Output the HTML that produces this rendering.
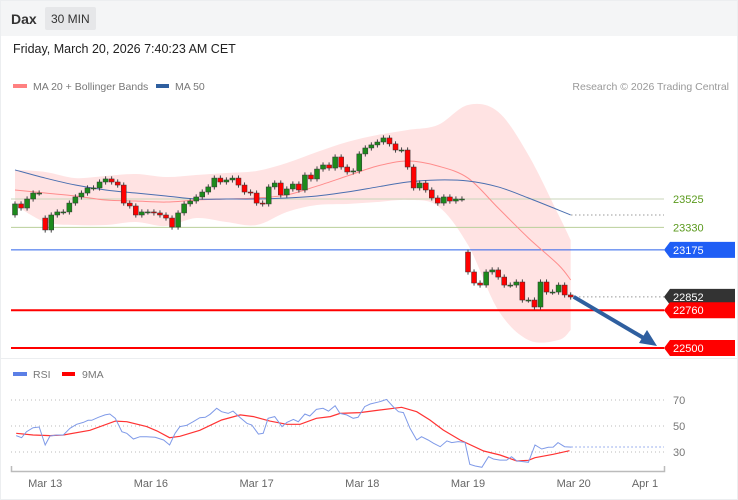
<!DOCTYPE html>
<html><head><meta charset="utf-8"><style>
body{margin:0;background:#fff;font-family:"Liberation Sans",sans-serif;}
#wrap{position:relative;width:738px;height:500px;overflow:hidden;background:#fff;}
svg text{font-family:"Liberation Sans",sans-serif;}
</style></head><body>
<div id="wrap">
<svg id="svg" width="738" height="500" xmlns="http://www.w3.org/2000/svg">
<rect x="0" y="0" width="738" height="36" fill="#f4f5f6"/>
<rect x="0.5" y="0.5" width="737" height="499" fill="none" stroke="#eceef0"/>
<text x="11" y="24" font-size="14" font-weight="bold" fill="#333">Dax</text>
<rect x="45" y="7" width="51" height="23" rx="2" fill="#e6e7e9"/>
<text x="51" y="23" font-size="12" fill="#333">30 MIN</text>
<text x="13" y="53" font-size="12.5" fill="#222">Friday, March 20, 2026 7:40:23 AM CET</text>
<rect x="13" y="84" width="14" height="4" fill="#ff8080"/>
<text x="33" y="90" font-size="10.5" fill="#777">MA 20 + Bollinger Bands</text>
<rect x="156" y="84" width="13" height="4" fill="#2f5f9f"/>
<text x="175" y="90" font-size="10.5" fill="#777">MA 50</text>
<text x="729" y="90" font-size="10.5" fill="#999" text-anchor="end">Research © 2026 Trading Central</text>
<line x1="0" y1="358.5" x2="738" y2="358.5" stroke="#eceef0"/>
<rect x="13" y="372" width="14" height="4" fill="#5b7fe6"/>
<text x="33" y="378" font-size="10.5" fill="#777">RSI</text>
<rect x="62" y="372" width="13" height="4" fill="#f00"/>
<text x="82" y="378" font-size="10.5" fill="#777">9MA</text>
<g id="g"></g>
</svg>
</div>
<script>
const closes=[23491,23463,23525,23566,23566,23312,23415,23436,23436,23497,23539,23566,23601,23601,23642,23663,23642,23621,23497,23477,23415,23436,23436,23429,23415,23394,23332,23429,23491,23511,23539,23573,23608,23669,23642,23656,23669,23621,23573,23566,23497,23491,23608,23635,23553,23594,23628,23587,23690,23663,23731,23759,23738,23814,23745,23711,23718,23835,23876,23897,23917,23945,23904,23862,23862,23745,23601,23635,23587,23532,23497,23539,23511,23525,23525,23023,22947,22933,23023,23037,22988,22933,22933,22954,22830,22830,22782,22954,22885,22885,22933,22865,22851];
const firstOpen=23415;
const gapOpens={5:23394,75:23160};
const indIdx=[0,5,10,15,20,25,30,35,40,45,50,55,60,65,70,75,80,85,90,92];
const ma50=[23725,23669,23621,23587,23566,23546,23525,23525,23525,23532,23546,23573,23608,23642,23656,23649,23608,23532,23449,23415];
const ma20=[23587,23566,23546,23518,23511,23504,23518,23525,23532,23553,23614,23683,23752,23786,23752,23669,23463,23257,23071,22968];
const bbUpper=[23725,23711,23669,23683,23697,23676,23690,23704,23718,23773,23848,23917,23965,24000,24034,24172,24124,23828,23415,23243];
const bbLower=[23484,23367,23346,23346,23367,23339,23394,23367,23346,23436,23484,23491,23504,23518,23477,23209,22761,22555,22555,22624];
const rsiIdx=[0.2,1.1,1.9,3.0,4.0,5.0,5.8,6.9,8.0,9.1,10.2,11.3,12.1,12.7,13.8,14.9,15.7,16.6,17.7,18.5,19.6,20.7,21.8,23.2,24.6,25.6,26.5,27.3,28.4,29.5,30.6,31.5,32.3,33.4,34.2,35.3,36.1,37.3,38.4,39.2,40.3,41.1,41.9,43.0,44.2,45.0,46.1,46.9,48.0,48.8,49.9,51.0,51.9,53.0,53.8,54.9,56.0,56.8,57.9,58.8,60.4,61.5,62.6,63.5,64.3,65.4,66.5,67.3,68.4,69.3,70.4,71.5,72.3,73.4,74.5,75.3,76.2,77.3,78.4,79.2,80.3,81.4,82.2,83.1,84.1,85.0,86.1,87.2,88.3,89.1,89.9,91.0,92.1];
const rsiVal=[42.6,41.0,45.6,48.7,49.2,35.4,42.3,43.1,43.1,48.2,51.3,52.8,54.4,54.4,56.7,58.5,59.2,55.9,45.6,44.4,40.0,41.8,41.8,41.3,39.2,35.4,44.4,49.5,50.5,53.3,56.4,56.7,59.0,63.6,61.0,59.7,61.5,56.4,52.1,50.8,43.8,44.4,55.9,57.2,49.5,52.8,55.1,53.3,59.2,57.7,62.8,63.6,61.5,65.6,59.7,58.5,55.9,56.7,64.9,66.9,68.7,70.5,64.9,61.0,60.3,48.2,39.2,41.8,39.2,36.7,34.1,38.5,37.2,38.0,37.4,20.5,19.2,18.2,26.4,24.6,23.8,23.8,26.4,23.1,22.6,22.1,35.4,32.3,33.6,33.8,37.2,34.1,33.8];
const maIdx=[0.2,3.0,5.8,8.0,12.4,16.6,18.5,21.8,23.5,25.6,27.3,30.6,34.2,37.3,39.5,42.2,45.0,47.2,49.9,52.2,53.8,57.1,60.4,64.0,66.5,68.7,70.9,73.7,77.6,80.3,83.1,85.0,86.1,89.1,91.8];
const maVal=[44.4,43.1,42.6,43.1,46.7,53.8,53.3,49.5,46.2,41.0,42.1,46.7,54.6,58.5,57.2,53.8,51.3,51.3,55.9,57.2,59.7,60.3,62.3,64.4,61.0,54.6,46.9,39.2,30.8,27.7,23.1,23.6,25.6,28.2,31.0];
const levels=[23525,23330,23175,22852,22760,22500];
const rsiTicks=[70,50,30];
const dateLabels=["Mar 13","Mar 16","Mar 17","Mar 18","Mar 19","Mar 20","Apr 1"];
const dateIdx=[5,22.5,40,57.5,75,92.5,104.3];

const NS="http://www.w3.org/2000/svg";
const g=document.getElementById('g');
const X=i=>15+i*6.04;
const Y=p=>199+(23525-p)*0.14537;
const RY=v=>400+(70-v)*1.3;
function el(t,a,parent){const e=document.createElementNS(NS,t);for(const k in a)e.setAttribute(k,a[k]);(parent||g).appendChild(e);return e;}
function smooth(pts){let d="M"+pts[0][0]+","+pts[0][1];for(let i=0;i<pts.length-1;i++){const p0=pts[i-1]||pts[i],p1=pts[i],p2=pts[i+1],p3=pts[i+2]||p2;const c1=[p1[0]+(p2[0]-p0[0])/6,p1[1]+(p2[1]-p0[1])/6],c2=[p2[0]-(p3[0]-p1[0])/6,p2[1]-(p3[1]-p1[1])/6];d+=" C"+c1+" "+c2+" "+p2;}return d;}
function linePath(xs,ys){return xs.map((x,i)=>(i?"L":"M")+x.toFixed(1)+","+ys[i].toFixed(1)).join(" ");}

// Bollinger band fill
const up=indIdx.map((k,i)=>[X(k),Y(bbUpper[i])]);
const lo=indIdx.map((k,i)=>[X(k),Y(bbLower[i])]).reverse();
const bandD=smooth(up)+" L"+lo[0]+" "+smooth(lo).slice(1)+" Z";
let e=el('path',{d:bandD,fill:'#ffe3e3',stroke:'none'});



// level lines
const lvColors={23525:'#c8d4b8',23330:'#b9cf9a',23175:'#2a62ea',22852:'#999',22760:'#f00',22500:'#f00'};
levels.forEach(p=>{
  const y=Y(p);
  let ln;
  if(p===22852){ln=el('line',{x1:571,y1:y,x2:664,y2:y,stroke:'#999','stroke-dasharray':'1.5,2.5','stroke-width':1});}
  else{ln=el('line',{x1:11,y1:y,x2:664,y2:y,stroke:lvColors[p],'stroke-width':(p===22760||p===22500)?2:1});}
  
  
});
// dotted extension near 23525
e=el('line',{x1:571,y1:Y(23415),x2:664,y2:Y(23415),stroke:'#999','stroke-dasharray':'1.5,2.5'});



// MA lines
e=el('path',{d:smooth(indIdx.map((k,i)=>[X(k),Y(ma20[i])])),fill:'none',stroke:'#ff8c8c','stroke-width':1});


e=el('path',{d:smooth(indIdx.map((k,i)=>[X(k),Y(ma50[i])])),fill:'none',stroke:'#4a6fb0','stroke-width':1});



// candles
let prev=firstOpen;
closes.forEach((c,i)=>{
  const o=(gapOpens[i]!==undefined)?gapOpens[i]:prev;
  prev=c;
  const x=X(i);
  const hi=Math.max(o,c)+18, lw=Math.min(o,c)-18;
  const w=el('line',{x1:x,y1:Y(hi),x2:x,y2:Y(lw),stroke:'#444','stroke-width':1});
  
  
  const top=Y(Math.max(o,c)),h=Math.max(1,Y(Math.min(o,c))-top);
  const b=el('rect',{x:x-2.5,y:top,width:5,height:h,fill:c>=o?'#1c8a1c':'#f00',stroke:'#333','stroke-width':0.5});
  
  
});

// arrow
const ax1=X(92.5),ay1=Y(22852),ax2=657,ay2=Y(22500)-2;
e=el('line',{x1:ax1,y1:ay1,x2:ax2-10,y2:ay2-6,stroke:'#2f5f9f','stroke-width':4});


e=el('polygon',{points:`${ax2},${ay2} ${ax2-18},${ay2-3} ${ax2-10},${ay2-16}`,fill:'#2f5f9f'});



// price labels
const lbl=[[23525,null,'#5b9a1e'],[23330,null,'#5b9a1e'],[23175,'#1f5ef5','#fff'],[22852,'#333','#fff'],[22760,'#f00','#fff'],[22500,'#f00','#fff']];
lbl.forEach(([p,bg,fg])=>{
  const y=Y(p);
  if(bg){const t=el('polygon',{points:`664,${y} 670,${y-8} 735,${y-8} 735,${y+8} 670,${y+8}`,fill:bg});
    
    }
  const tx=el('text',{x:673,y:y+4,'font-size':11,fill:fg});
  tx.textContent=p;
  
  
});

// RSI grid
rsiTicks.forEach(v=>{
  const y=RY(v);
  const l=el('line',{x1:11,y1:y,x2:664,y2:y,stroke:'#bbb','stroke-dasharray':'1,3'});
  
  
  const t=el('text',{x:673,y:y+4,'font-size':11,fill:'#777'});
  t.textContent=v;
  
  
});
e=el('path',{d:linePath(maIdx.map(X),maVal.map(RY)),fill:'none',stroke:'#f33','stroke-width':1.2});


e=el('path',{d:linePath(rsiIdx.map(X),rsiVal.map(RY)),fill:'none',stroke:'#7f9ae8','stroke-width':1});


const lastR=RY(rsiVal[rsiVal.length-1]);
e=el('line',{x1:X(92.1),y1:lastR,x2:664,y2:lastR,stroke:'#7f9ae8','stroke-dasharray':'1.5,2.5'});



// x axis
e=el('path',{d:'M11.5,466 V471.5 H664.5 V466',fill:'none',stroke:'#bbb','stroke-width':1.5});


dateLabels.forEach((s,i)=>{
  const t=el('text',{x:X(dateIdx[i]),y:487,'font-size':11,fill:'#666','text-anchor':'middle'});
  t.textContent=s;
  
  
});
</script>
</body></html>
